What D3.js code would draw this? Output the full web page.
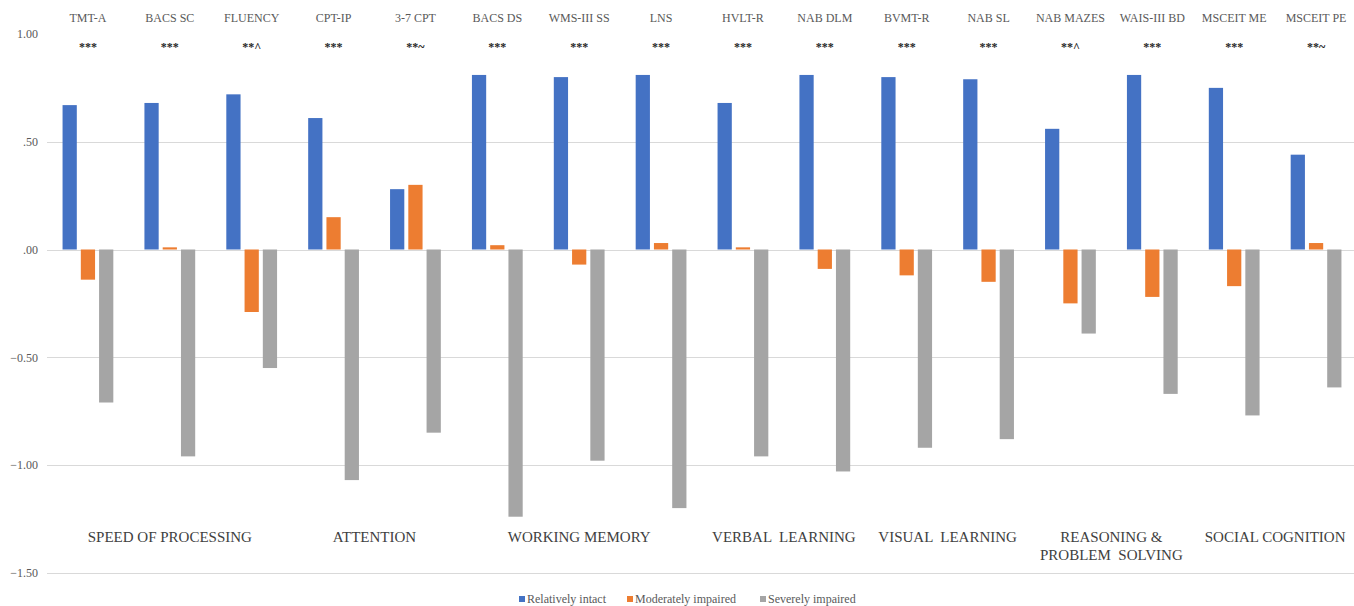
<!DOCTYPE html>
<html>
<head>
<meta charset="utf-8">
<script src="https://cdn.jsdelivr.net/npm/d3@7"></script>
<style>
    body { margin: 0; background: #fff; }
    #chart text { font-family: "Liberation Serif", "Times New Roman", serif; }
</style>
</head>
<body>
<div id="chart"></div>
<script>
// tests along the top
var tests = ["TMT-A", "BACS SC", "FLUENCY", "CPT-IP", "3-7 CPT", "BACS DS", "WMS-III SS", "LNS",
    "HVLT-R", "NAB DLM", "BVMT-R", "NAB SL", "NAB MAZES", "WAIS-III BD", "MSCEIT ME", "MSCEIT PE"];
var stars = ["***", "***", "**^", "***", "**~", "***", "***", "***",
    "***", "***", "***", "***", "**^", "***", "***", "**~"];
var seriesNames = ["Relatively intact", "Moderately impaired", "Severely impaired"];
var intact = [0.67, 0.68, 0.72, 0.61, 0.28, 0.81, 0.80, 0.81, 0.68, 0.81, 0.80, 0.79, 0.56, 0.81, 0.75, 0.44];
var moderate = [-0.14, 0.01, -0.29, 0.15, 0.30, 0.02, -0.07, 0.03, 0.01, -0.09, -0.12, -0.15, -0.25, -0.22, -0.17, 0.03];
var severe = [-0.71, -0.96, -0.55, -1.07, -0.85, -1.24, -0.98, -1.20, -0.96, -1.03, -0.92, -0.88, -0.39, -0.67, -0.77, -0.64];
// domains: label lines, first and last test
var domainLines = [["SPEED OF PROCESSING"], ["ATTENTION"], ["WORKING MEMORY"], ["VERBAL  LEARNING"],
    ["VISUAL  LEARNING"], ["REASONING &", "PROBLEM  SOLVING"], ["SOCIAL COGNITION"]];
var domainFirst = ["TMT-A", "CPT-IP", "BACS DS", "HVLT-R", "BVMT-R", "NAB MAZES", "MSCEIT ME"];
var domainLast = ["FLUENCY", "3-7 CPT", "LNS", "NAB DLM", "NAB SL", "WAIS-III BD", "MSCEIT PE"];
var yTicks = [1, 0.5, 0, -0.5, -1, -1.5];

var chart = {
    width: 1354,
    height: 606,
    colors: ["#4472C4", "#ED7D31", "#A5A5A5"],
    init: function () {
        this.svg = d3.select("#chart").append("svg")
            .attr("width", this.width)
            .attr("height", this.height);
        this.x0 = d3.scaleBand().domain(tests).range([47, 1357]).paddingInner(0.38).paddingOuter(0.19);
        this.x1 = d3.scaleBand().domain(seriesNames).range([0, this.x0.bandwidth()]).paddingInner(0.22);
        this.y = d3.scaleLinear().domain([-1.5, 1]).range([572.75, 34]);
        this.drawGrid();
        this.drawBars();
        this.drawLabels();
        this.drawLegend();
    },
    drawGrid: function () {
        var self = this;
        var yAxis = d3.axisLeft(self.y).tickValues(yTicks)
            .tickSize(0)
            .tickFormat(function (d) { return d3.format(".2f")(d).replace(/^(-?)0\./, "$1."); });
        var g = self.svg.append("g").attr("transform", "translate(38,0)").call(yAxis);
        g.select(".domain").remove();
        g.selectAll("text").attr("font-size", 12).attr("fill", "#595959").attr("x", 0);
        self.svg.append("g").selectAll("line")
            .data(yTicks.filter(function (d) { return d < 1; }))
            .enter().append("line")
            .attr("x1", 47).attr("x2", self.width)
            .attr("y1", function (d) { return Math.round(self.y(d)) + 0.5; })
            .attr("y2", function (d) { return Math.round(self.y(d)) + 0.5; })
            .attr("stroke", "#d9d9d9")
            .attr("stroke-width", 1);
    },
    drawBars: function () {
        var self = this;
        var series = [intact, moderate, severe];
        var rows = tests.map(function (t, i) {
            return seriesNames.map(function (s, j) { return { test: t, key: s, j: j, value: series[j][i] }; });
        });
        self.svg.append("g").selectAll("g")
            .data(rows)
            .enter().append("g")
            .attr("transform", function (d, i) { return "translate(" + self.x0(tests[i]) + ",0)"; })
            .selectAll("rect")
            .data(function (d) { return d; })
            .enter().append("rect")
            .attr("x", function (d) { return self.x1(d.key); })
            .attr("width", self.x1.bandwidth())
            .attr("y", function (d) { return self.y(Math.max(0, d.value)); })
            .attr("height", function (d) { return Math.abs(self.y(d.value) - self.y(0)); })
            .attr("fill", function (d) { return self.colors[d.j]; });
    },
    drawLabels: function () {
        var self = this;
        var cx = function (t) { return self.x0(t) + self.x0.bandwidth() / 2; };
        self.svg.append("g").selectAll("text")
            .data(tests)
            .enter().append("text")
            .attr("x", cx)
            .attr("y", 22)
            .attr("text-anchor", "middle")
            .attr("font-size", 12)
            .attr("fill", "#595959")
            .text(function (d) { return d; });
        self.svg.append("g").selectAll("text")
            .data(stars)
            .enter().append("text")
            .attr("x", function (d, i) { return cx(tests[i]); })
            .attr("y", 51)
            .attr("text-anchor", "middle")
            .attr("font-size", 12)
            .attr("font-weight", "bold")
            .attr("fill", "#262626")
            .text(function (d) { return d; });
        var dom = self.svg.append("g").selectAll("text")
            .data(domainLines)
            .enter().append("text")
            .attr("x", function (d, i) { return (cx(domainFirst[i]) + cx(domainLast[i])) / 2; })
            .attr("y", 542)
            .attr("text-anchor", "middle")
            .attr("font-size", 15)
            .attr("fill", "#404040")
            .style("white-space", "pre");
        dom.selectAll("tspan")
            .data(function (d) { return d; })
            .enter().append("tspan")
            .attr("x", function () { return d3.select(this.parentNode).attr("x"); })
            .attr("dy", function (d, i) { return i ? 18 : 0; })
            .text(function (d) { return d; });
    },
    drawLegend: function () {
        var self = this;
        var offsets = [519, 627, 760];
        var g = self.svg.append("g").selectAll("g")
            .data(seriesNames)
            .enter().append("g")
            .attr("transform", function (d, i) { return "translate(" + offsets[i] + ",600)"; });
        g.append("rect").attr("x", 0).attr("y", -4).attr("width", 6).attr("height", 6)
            .attr("fill", function (d, i) { return self.colors[i]; });
        g.append("text").attr("x", 8).attr("y", 3)
            .attr("font-size", 12)
            .attr("fill", "#595959")
            .text(function (d) { return d; });
    }
};

chart.init();
</script>
</body>
</html>
